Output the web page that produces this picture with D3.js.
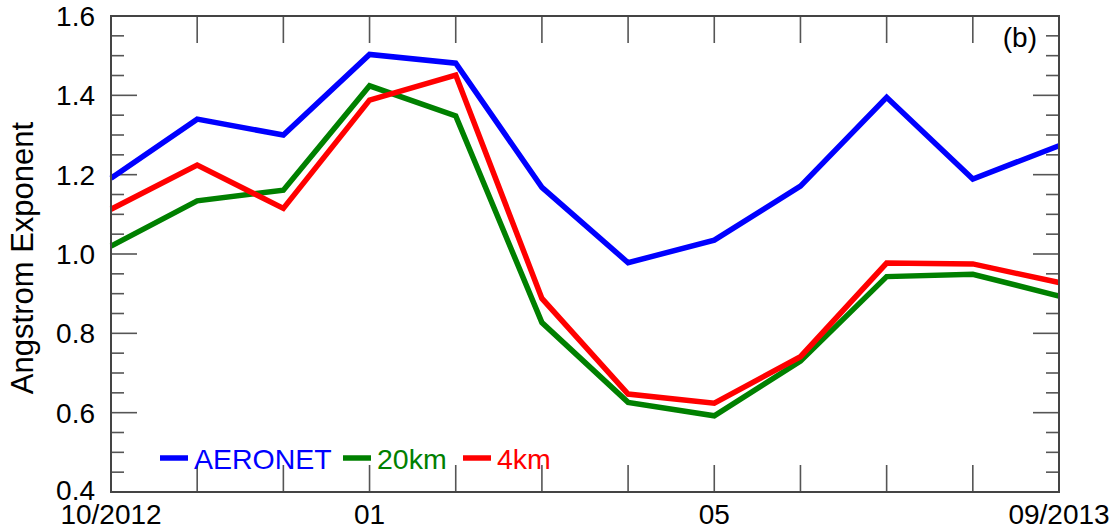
<!DOCTYPE html>
<html>
<head>
<meta charset="utf-8">
<script src="https://cdn.jsdelivr.net/npm/d3@7"></script>
<style>
html,body{margin:0;padding:0;background:#fff;}
svg{display:block;font-family:"Liberation Sans",Arial,Helvetica,sans-serif;}
</style>
</head>
<body>
<svg id="chart" width="1119" height="531"></svg>
<script>
const months = ["10/2012","11","12","01","02","03","04","05","06","07","08","09/2013"];
const tickLabels = {0:"10/2012",3:"01",7:"05",11:"09/2013"};
const aeronet = [1.191,1.340,1.300,1.503,1.481,1.168,0.978,1.035,1.171,1.395,1.189,1.273];
const km20    = [1.020,1.134,1.161,1.424,1.348,0.827,0.626,0.592,0.730,0.943,0.949,0.894];
const km4     = [1.113,1.224,1.115,1.388,1.451,0.888,0.647,0.624,0.741,0.977,0.975,0.928];
const seriesNames = ["AERONET","20km","4km"];
const seriesColors = ["#0000ff","#008000","#ff0000"];
const yMajor = [0.4,0.6,0.8,1.0,1.2,1.4,1.6];

const svg = d3.select("#chart");
const m = {left:111, right:1059, top:16, bottom:492};
const x = d3.scaleLinear().domain([0, months.length-1]).range([m.left, m.right]);
const y = d3.scaleLinear().domain([0.4,1.6]).range([m.bottom, m.top]);
const axisColor = "#555";

const g = svg.append("g");
const yMinor = d3.range(0.4, 1.6001, 0.05).map(v => +v.toFixed(2));
const isMajor = v => yMajor.some(t => Math.abs(t - v) < 1e-6);
yMinor.forEach(v => {
  const len = isMajor(v) ? 26 : 13;
  g.append("line").attr("x1", m.left).attr("x2", m.left+len).attr("y1", y(v)).attr("y2", y(v))
    .attr("stroke", axisColor).attr("stroke-width", 1.6);
  g.append("line").attr("x1", m.right).attr("x2", m.right-len).attr("y1", y(v)).attr("y2", y(v))
    .attr("stroke", axisColor).attr("stroke-width", 1.6);
});
months.forEach((mo, i) => {
  g.append("line").attr("x1", x(i)).attr("x2", x(i)).attr("y1", m.bottom).attr("y2", m.bottom-27)
    .attr("stroke", axisColor).attr("stroke-width", 1.6);
  g.append("line").attr("x1", x(i)).attr("x2", x(i)).attr("y1", m.top).attr("y2", m.top+27)
    .attr("stroke", axisColor).attr("stroke-width", 1.6);
});

const line = d3.line().x((d,i) => x(i)).y(d => y(d));
[aeronet, km20, km4].forEach((s, k) => {
  svg.append("path").datum(s).attr("d", line).attr("fill","none")
    .attr("stroke", seriesColors[k]).attr("stroke-width", 5.5).attr("stroke-linejoin","miter");
});

svg.append("rect").attr("x", m.left).attr("y", m.top).attr("width", m.right-m.left).attr("height", m.bottom-m.top)
  .attr("fill","none").attr("stroke", "#444").attr("stroke-width", 2);

yMajor.forEach(v => {
  svg.append("text").attr("x", 95).attr("y", y(v)).attr("dy", v === 0.4 ? "0.28em" : "0.36em").attr("text-anchor","end")
    .attr("font-size", 28).attr("fill","#000").text(v.toFixed(1));
});
Object.keys(tickLabels).forEach(k => {
  svg.append("text").attr("x", x(+k)).attr("y", 524).attr("text-anchor","middle")
    .attr("font-size", 28).attr("fill","#000").text(tickLabels[k]);
});
svg.append("text").attr("transform", `translate(33,258) rotate(-90)`).attr("text-anchor","middle")
  .attr("font-size", 31).attr("fill","#000").text("Angstrom Exponent");
svg.append("text").attr("x", 1037).attr("y", 47).attr("text-anchor","end")
  .attr("font-size", 28).attr("fill","#000").text("(b)");

const legX = [160, 343, 463];
seriesNames.forEach((n, k) => {
  svg.append("line").attr("x1", legX[k]).attr("x2", legX[k]+28).attr("y1", 458).attr("y2", 458)
    .attr("stroke", seriesColors[k]).attr("stroke-width", 5.5);
  svg.append("text").attr("x", legX[k]+34).attr("y", 469).attr("font-size", 28.5)
    .attr("fill", seriesColors[k]).text(n);
});
</script>
</body>
</html>
